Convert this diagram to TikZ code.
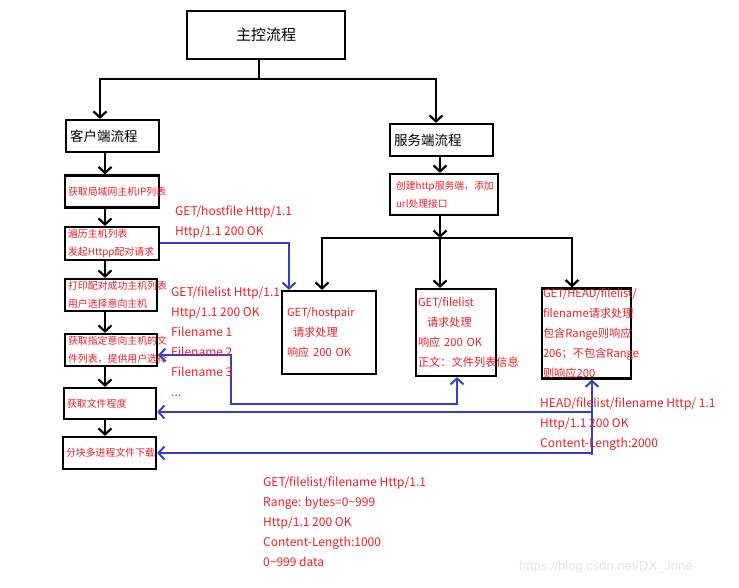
\documentclass[tikz,border=0pt]{standalone}
\usepackage{fontspec}
\setmainfont{Noto Sans CJK SC}
\newfontfamily\wmfont{Liberation Sans}
\usetikzlibrary{arrows.meta}
\definecolor{txtred}{RGB}{240,30,40}
\definecolor{linkblue}{RGB}{52,62,200}
\tikzset{
	>={Straight Barb[length=6pt,width=13pt]},
	box/.style={draw, line width=2.2pt, rectangle, align=left, inner ysep=0pt},
	cbox/.style={box, text=txtred, text width=86pt, inner xsep=3pt, font=\fontsize{9.9}{18}\selectfont},
	sbox/.style={box, text=txtred, font=\fontsize{11.2}{20}\selectfont},
	arr/.style={line width=2.2pt, ->},
	link/.style={linkblue, line width=2pt, ->},
	lbl/.style={text=txtred, align=left, anchor=north west, inner sep=0pt, font=\fontsize{12}{20}\selectfont}
}
\begin{document}
\begin{tikzpicture}[x=1pt, y=-1pt]
	\useasboundingbox (0,0) rectangle (739,588);
	\node[box, align=center, minimum width=158, minimum height=48, font=\fontsize{15}{18}\selectfont] (main) at (266,35) {主控流程};
	\node[box, text width=85pt, inner xsep=4pt, minimum height=32, font=\fontsize{13.5}{16}\selectfont] (client) at (112.5,136) {客户端流程};
	\node[box, text width=95pt, inner xsep=4pt, minimum height=32, font=\fontsize{13.5}{16}\selectfont] (server) at (441.5,140) {服务端流程};

	\node[cbox, text width=88pt, minimum height=32] (c1) at (112,191.5) {获取局域网主机IP列表};
	\node[cbox, text width=88pt, minimum height=33] (c2) at (112,243.5) {遍历主机列表\\发起Httpp配对请求};
	\node[cbox, minimum height=32] (c3) at (111,295) {打印配对成功主机列表\\用户选择意向主机};
	\node[cbox, minimum height=32] (c4) at (111,350) {获取指定意向主机的文\\件列表，提供用户选择};
	\node[cbox, minimum height=31] (c5) at (110,403.5) {获取文件程度};
	\node[cbox, text width=87pt, minimum height=32] (c6) at (109.5,453) {分块多进程文件下载};

	\node[box, text=txtred, text width=96pt, inner xsep=6pt, minimum height=41, font=\fontsize{9.8}{18}\selectfont] (s1) at (444,194.5) {创建http服务端，添加\\url处理接口};
	\node[sbox, text width=84pt, inner xsep=5pt, minimum height=83] (s2) at (329,332.5) {GET/hostpair\\\hspace*{6pt}请求处理\\响应 200 OK};
	\node[sbox, text width=76pt, inner xsep=2pt, minimum height=87] (s3) at (456,332.5) {GET/filelist\\\hspace*{9pt}请求处理\\响应 200 OK\\正文：文件列表信息};
	\node[sbox, text width=87pt, inner xsep=1pt, minimum height=89] (s4) at (586.5,333.5) {GET/HEAD/filelist/\\filename请求处理\\包含Range则响应\\206；不包含Range\\则响应200};

	\coordinate (top) at (259,79);
	\draw[line width=2.2pt] (main.south -| top) -- (top);
	\draw[arr] (top) -| (client.north -| 100,0);
	\draw[arr] (top) -| (server.north -| 436,0);
	\draw[arr] (client.south -| 105,0) -- (c1.north -| 105,0);
	\draw[arr] (c1.south -| 105,0) -- (c2.north -| 105,0);
	\draw[arr] (c2.south -| 105,0) -- (c3.north -| 105,0);
	\draw[arr] (c3.south -| 105,0) -- (c4.north -| 105,0);
	\draw[arr] (c4.south -| 105,0) -- (c5.north -| 105,0);
	\draw[arr] (c5.south -| 105,0) -- (c6.north -| 105,0);
	\draw[arr] (server.south -| 440,0) -- (s1.north -| 440,0);
	\coordinate (hub) at (440,238);
	\draw[arr] (s1.south -| hub) -- (hub);
	\draw[arr] (hub) -| (s2.north -| 322,0);
	\draw[arr] (hub) -- (s3.north -| hub);
	\draw[arr] (hub) -| (s4.north -| 572,0);

	\draw[link] (c2.east) -| (s2.north -| 289,0);
	\draw[link, <->] (c4.east |- 0,355) -| (231,404) -| (s3.south -| 457,0);
	\coordinate (drop) at (592,455);
	\draw[link] (drop) -- (s4.south -| drop);
	\draw[link] (drop |- 0,412) -- (c5.east |- 0,412);
	\draw[link] (drop |- 0,453) -- (c6.east |- 0,453);

	\node[lbl] (q1) at (175,206) {GET/hostfile Http/1.1\\Http/1.1 200 OK};
	\node[lbl] (q2) at (171,287) {GET/filelist Http/1.1\\Http/1.1 200 OK\\Filename 1\\Filename 2\\Filename 3\\...};
	\node[lbl] (q3) at (540,398) {HEAD/filelist/filename Http/ 1.1\\Http/1.1 200 OK\\Content-Length:2000};
	\node[lbl] (q4) at (263,477) {GET/filelist/filename Http/1.1\\Range: bytes=0\textasciitilde999\\Http/1.1 200 OK\\Content-Length:1000\\0\textasciitilde999 data};
	\node[text=black!10, anchor=west, inner sep=0pt, font=\wmfont\fontsize{13}{15}\selectfont] (wm) at (519,567) {https://blog.csdn.net/DX\_Jone};
\end{tikzpicture}
\end{document}
